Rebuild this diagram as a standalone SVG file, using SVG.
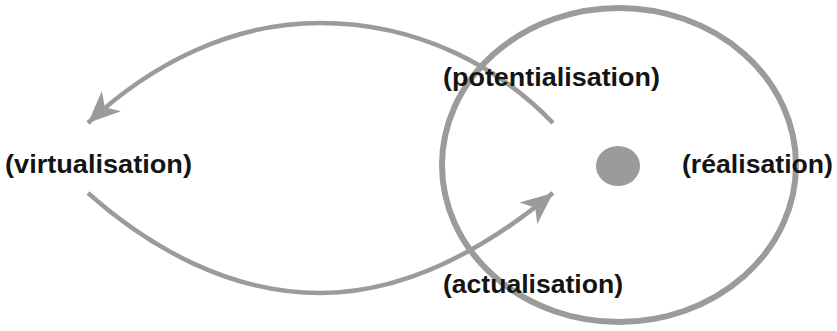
<svg xmlns="http://www.w3.org/2000/svg" width="837" height="331" viewBox="0 0 837 331">
  <style>
    .lbl { font-family: "Liberation Sans", Arial, sans-serif; font-weight: bold; font-size: 25px; fill: #141414; }
    .arc { fill: none; stroke: #9b9b9b; stroke-width: 4.5; }
  </style>
  <defs>
    <marker id="head" markerUnits="userSpaceOnUse" viewBox="-34 -16 36 32" refX="0" refY="0" markerWidth="36" markerHeight="32" orient="auto">
      <path d="M0,0 L-32,-14 L-23,0 L-32,14 Z" fill="#9b9b9b"/>
    </marker>
  </defs>
  <rect width="837" height="331" fill="#ffffff"/>
  <g id="realisation-circle">
    <ellipse cx="619" cy="165" rx="177" ry="157" fill="none" stroke="#9b9b9b" stroke-width="6"/>
    <ellipse cx="618" cy="166" rx="22" ry="20" fill="#9b9b9b"/>
  </g>
  <g id="connectors">
    <path class="arc" d="M553,123 C500,68 420,23 320,23 C230,23 150,65 88,123" marker-end="url(#head)"/>
    <path class="arc" d="M88,193 C150,248 230,293 320,293 C410,293 490,245 553,193" marker-end="url(#head)"/>
  </g>
  <g id="virtualisation"><text class="lbl" x="5" y="173" textLength="187" lengthAdjust="spacingAndGlyphs">(virtualisation)</text></g>
  <g id="potentialisation"><text class="lbl" x="443" y="86" textLength="217" lengthAdjust="spacingAndGlyphs">(potentialisation)</text></g>
  <g id="realisation"><text class="lbl" x="682" y="173" textLength="151" lengthAdjust="spacingAndGlyphs">(réalisation)</text></g>
  <g id="actualisation"><text class="lbl" x="443" y="293" textLength="180" lengthAdjust="spacingAndGlyphs">(actualisation)</text></g>
</svg>
